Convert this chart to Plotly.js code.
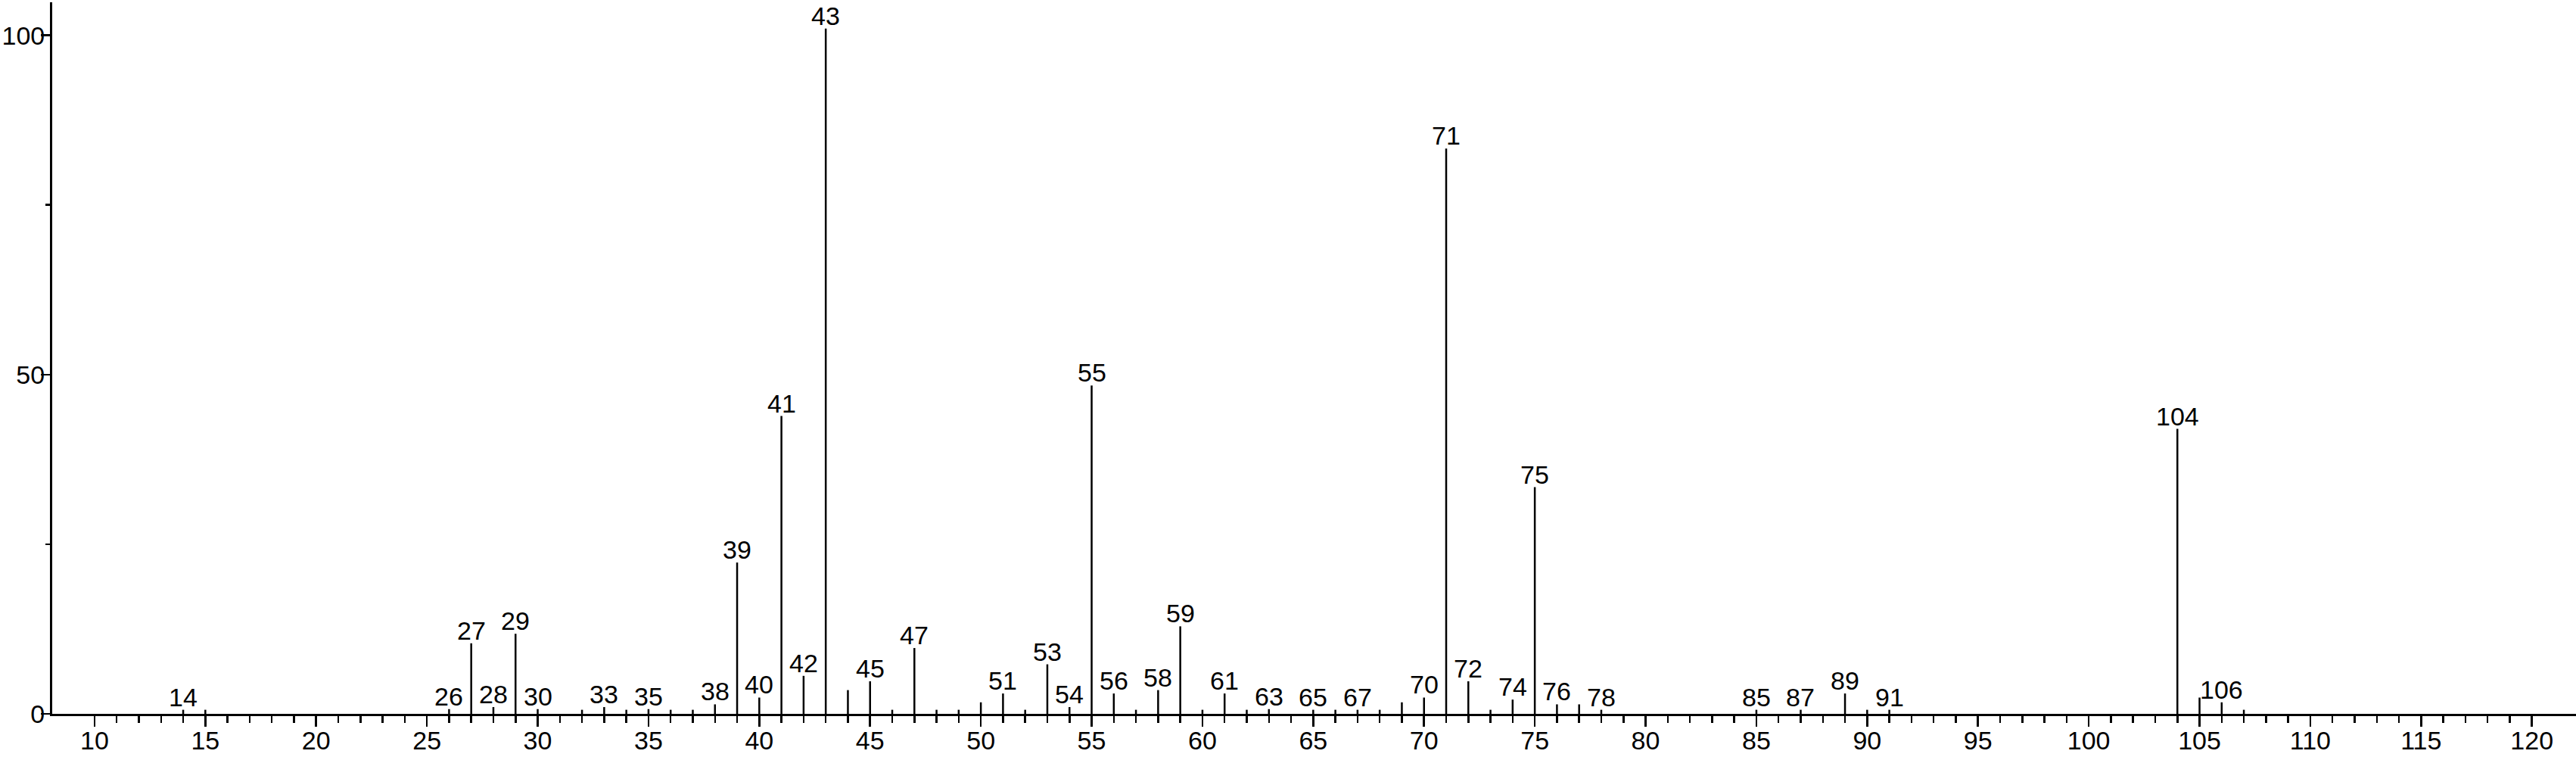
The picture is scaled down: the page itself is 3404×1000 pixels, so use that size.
<!DOCTYPE html>
<html>
<head>
<meta charset="utf-8">
<script src="https://cdn.plot.ly/plotly-3.0.1.min.js"></script>
<style>
  html, body { margin: 0; padding: 0; background: #ffffff; }
  #chart { width: 3404px; height: 1000px; }
</style>
</head>
<body>
<div id="chart"></div>
<script>
// m/z values and relative intensities
const mz = [14, 15, 26, 27, 28, 29, 30, 32, 33, 34, 35, 36, 37, 38, 39, 40, 41, 42, 43, 44,
            45, 46, 47, 48, 49, 50, 51, 52, 53, 54, 55, 56, 57, 58, 59, 60, 61, 62, 63, 65,
            66, 67, 68, 69, 70, 71, 72, 73, 74, 75, 76, 77, 78, 85, 87, 89, 90, 91, 104, 105,
            106, 107];
const intensity = [0.6, 0.6, 0.7, 10.4, 1.0, 11.8, 0.7, 0.6, 1.0, 0.6, 0.7, 0.6, 0.6, 1.4, 22.3, 2.4, 43.9, 5.6, 101.0, 3.5,
                   4.8, 0.6, 9.7, 0.6, 0.6, 1.7, 3.0, 0.6, 7.3, 1.0, 48.4, 3.0, 0.6, 3.5, 12.9, 0.6, 3.0, 0.6, 0.7, 0.6,
                   0.6, 0.6, 0.6, 1.7, 2.4, 83.3, 4.8, 0.6, 2.1, 33.4, 1.4, 1.4, 0.6, 0.6, 0.6, 3.0, 0.6, 0.6, 42.0, 2.4,
                   1.7, 0.6];
// peaks that carry an m/z label in the reference
const labelled = [14, 26, 27, 28, 29, 30, 33, 35, 38, 39, 40, 41, 42, 43, 45, 47, 51, 53, 54, 55,
                  56, 58, 59, 61, 63, 65, 67, 70, 71, 72, 74, 75, 76, 78, 85, 87, 89, 91, 104, 106];
// axis tick values
const xMajorTicks = [10, 15, 20, 25, 30, 35, 40, 45, 50, 55, 60, 65, 70, 75, 80, 85, 90, 95, 100, 105, 110, 115, 120];
const yTicks = [0, 50, 100];
const yMinorTicks = [25, 75];

const FONT = '"Liberation Sans", Arial, Helvetica, sans-serif';

// stick spectrum: one vertical segment per peak
const lx = [], ly = [];
for (let i = 0; i < mz.length; i++) {
  lx.push(mz[i], mz[i], null);
  ly.push(0, intensity[i], null);
}

const xMinor = [];
for (let v = xMajorTicks[0]; v <= xMajorTicks[xMajorTicks.length - 1]; v++) {
  if (xMajorTicks.indexOf(v) < 0) xMinor.push(v);
}

const annotations = labelled.map(m => {
  const idx = mz.indexOf(m);
  return {
    x: m, y: intensity[idx], xref: 'x', yref: 'y',
    text: String(m), showarrow: false,
    xanchor: 'center', yanchor: 'bottom', yshift: -4,
    font: { family: FONT, size: 34, color: '#000000' }
  };
});

const trace = {
  x: lx, y: ly, type: 'scatter', mode: 'lines',
  line: { color: '#000000', width: 2.5 },
  hoverinfo: 'skip', showlegend: false
};

const layout = {
  width: 3404, height: 1000,
  margin: { l: 69, r: 0, t: 3, b: 57, pad: 0 },
  paper_bgcolor: '#ffffff', plot_bgcolor: '#ffffff',
  showlegend: false,
  font: { family: FONT, size: 34, color: '#000000' },
  xaxis: {
    range: [8.09, 121.99], showgrid: false, zeroline: false,
    showline: true, linecolor: '#000000', linewidth: 3,
    tickmode: 'array', tickvals: xMajorTicks, ticktext: xMajorTicks.map(String),
    ticks: 'outside', ticklen: 14, tickwidth: 2.5, tickcolor: '#000000',
    ticklabelstandoff: -11,
    tickfont: { family: FONT, size: 34, color: '#000000' },
    minor: { tickmode: 'array', tickvals: xMinor, ticks: 'outside', ticklen: 9, tickwidth: 2.5, tickcolor: '#000000', showgrid: false }
  },
  yaxis: {
    range: [0, 104.87], showgrid: false, zeroline: false,
    showline: true, linecolor: '#000000', linewidth: 3,
    tickmode: 'array', tickvals: yTicks, ticktext: yTicks.map(String),
    ticks: 'outside', ticklen: 12, tickwidth: 2.5, tickcolor: '#000000',
    ticklabelstandoff: -12,
    tickfont: { family: FONT, size: 34, color: '#000000' },
    minor: { tickmode: 'array', tickvals: yMinorTicks, ticks: 'outside', ticklen: 6, tickwidth: 2.5, tickcolor: '#000000', showgrid: false }
  },
  annotations: annotations
};

Plotly.newPlot('chart', [trace], layout, { staticPlot: true, displayModeBar: false });
</script>
</body>
</html>
